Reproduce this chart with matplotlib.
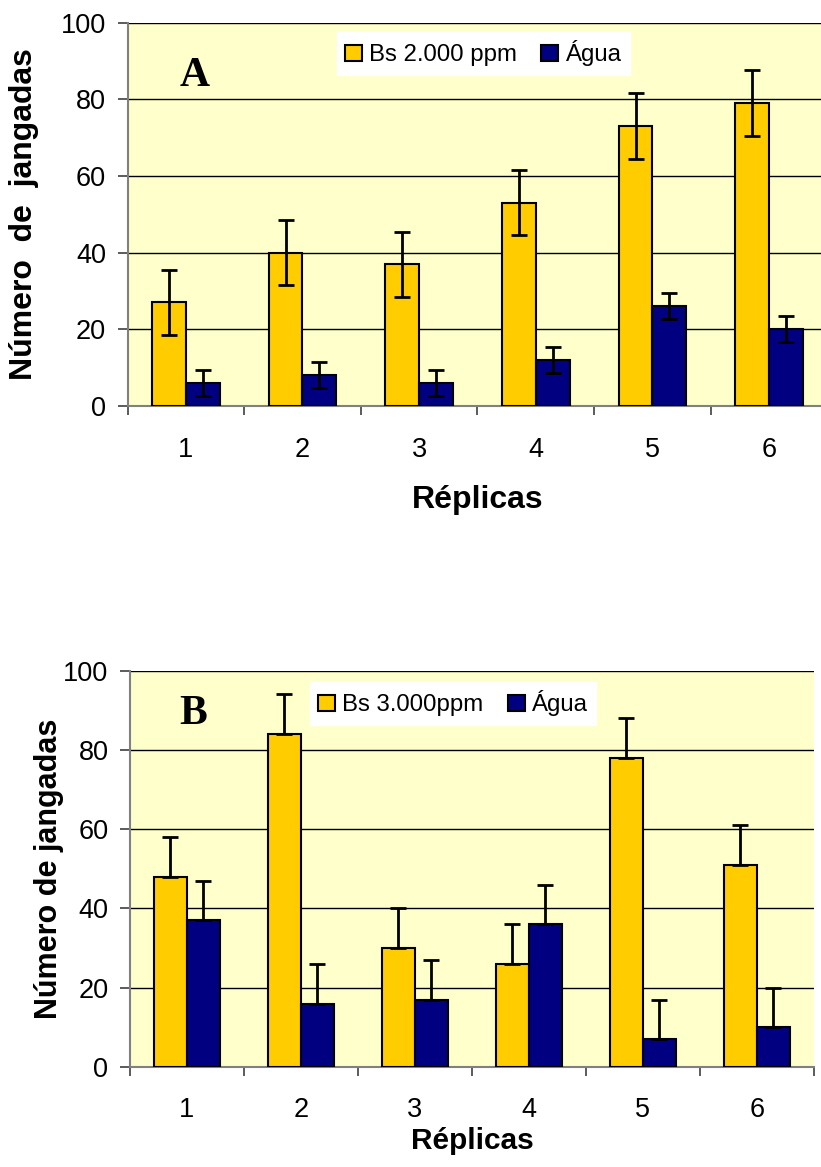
#!/usr/bin/env python3
"""Número de jangadas por réplica: Bs frente a água (painéis A e B)."""

import matplotlib
matplotlib.use("Agg")
import matplotlib.pyplot as plt
import numpy as np
from matplotlib.patches import Patch

replicas = ["1", "2", "3", "4", "5", "6"]

bs_a = [27, 40, 37, 53, 73, 79]
bs_a_err = [8.5, 8.5, 8.5, 8.5, 8.5, 8.5]
agua_a = [6, 8, 6, 12, 26, 20]
agua_a_err = [3.4, 3.4, 3.4, 3.4, 3.4, 3.4]

bs_b = [48, 84, 30, 26, 78, 51]
bs_b_err = [10, 10, 10, 10, 10, 10]
agua_b = [37, 16, 17, 36, 7, 10]
agua_b_err = [10, 10, 10, 10, 10, 10]

ORANGE = "#FFCC00"
NAVY = "#000080"
BG = "#FFFFCC"
GREY = "#808080"

plt.rcParams["font.family"] = ["Liberation Sans", "DejaVu Sans"]


def panel(ax, bs, bs_err, agua, agua_err, upper_only, letter, letter_xy,
          legend_labels, legend_anchor, ylabel, ylabel_size, xlabel_size,
          tick_pad):
    x = np.arange(len(replicas))
    width = 0.29
    err_kw = dict(ecolor="black", elinewidth=2, capsize=6, capthick=2)
    if upper_only:
        bs_yerr = [np.zeros(len(bs)), bs_err]
        agua_yerr = [np.zeros(len(agua)), agua_err]
    else:
        bs_yerr = bs_err
        agua_yerr = agua_err
    ax.bar(x - width / 2, bs, width, color=ORANGE, edgecolor="black",
           linewidth=1.5, yerr=bs_yerr, error_kw=err_kw, zorder=3)
    ax.bar(x + width / 2, agua, width, color=NAVY, edgecolor="black",
           linewidth=1.5, yerr=agua_yerr, error_kw=err_kw, zorder=3)

    ax.set_facecolor(BG)
    ax.set_xlim(-0.5, len(replicas) - 0.5)
    ax.set_ylim(0, 100)
    ax.set_yticks(np.arange(0, 101, 20))
    ax.yaxis.grid(True, color="black", linewidth=1, zorder=1)
    ax.set_axisbelow(True)

    ax.set_xticks(np.arange(-0.5, len(replicas), 1.0))
    ax.set_xticklabels([])
    ax.set_xticks(x, minor=True)
    ax.set_xticklabels(replicas, minor=True)
    ax.tick_params(axis="x", which="major", length=6.5, width=1.2, color="#404040")
    ax.tick_params(axis="x", which="minor", length=0, pad=tick_pad, labelsize=19.5)
    ax.tick_params(axis="y", length=7, width=1.2, color="#404040",
                   labelsize=19.5, pad=8.5)

    for side in ("top", "right"):
        ax.spines[side].set_visible(False)
    for side in ("left", "bottom"):
        ax.spines[side].set_color(GREY)
        ax.spines[side].set_linewidth(1.5)

    ax.set_ylabel(ylabel, fontsize=ylabel_size, fontweight="bold")
    ax.set_xlabel("Réplicas", fontsize=xlabel_size, fontweight="bold")

    ax.text(letter_xy[0], letter_xy[1], letter, transform=ax.transAxes,
            fontsize=30, fontweight="bold",
            family=["Liberation Serif", "DejaVu Serif"],
            ha="center", va="center")

    handles = [Patch(facecolor=ORANGE, edgecolor="black", linewidth=1.5),
               Patch(facecolor=NAVY, edgecolor="black", linewidth=1.5)]
    fig = ax.figure
    fig.legend(handles, legend_labels, loc="upper left",
               bbox_to_anchor=legend_anchor, ncol=2, fontsize=17.3,
               frameon=True, fancybox=False, framealpha=1,
               edgecolor="white", facecolor="white",
               handlelength=0.7, handleheight=0.7, handletextpad=0.3,
               columnspacing=1.0, borderpad=0.35, borderaxespad=0)


fig = plt.figure(figsize=(8.21, 11.67), dpi=100)
ax_a = fig.add_axes([0.1553, 0.6521, 0.8526, 0.3286])
ax_b = fig.add_axes([0.1583, 0.0857, 0.8331, 0.3396])

panel(ax_a, bs_a, bs_a_err, agua_a, agua_a_err, False, "A", (0.0957, 0.860),
      ["Bs 2.000 ppm", "Água"], (0.4105, 0.9726), "Número  de  jangadas",
      ylabel_size=23, xlabel_size=23, tick_pad=22)
panel(ax_b, bs_b, bs_b_err, agua_b, agua_b_err, True, "B", (0.0928, 0.891),
      ["Bs 3.000ppm", "Água"], (0.3776, 0.4156), "Número de jangadas",
      ylabel_size=22, xlabel_size=21.5, tick_pad=21.5)

ax_a.yaxis.set_label_coords(-0.126, 0.5)
ax_b.yaxis.set_label_coords(-0.0965, 0.5)
ax_a.xaxis.set_label_coords(0.5, -0.207)
ax_b.xaxis.set_label_coords(0.5, -0.152)

fig.savefig("out.png", dpi=100)
